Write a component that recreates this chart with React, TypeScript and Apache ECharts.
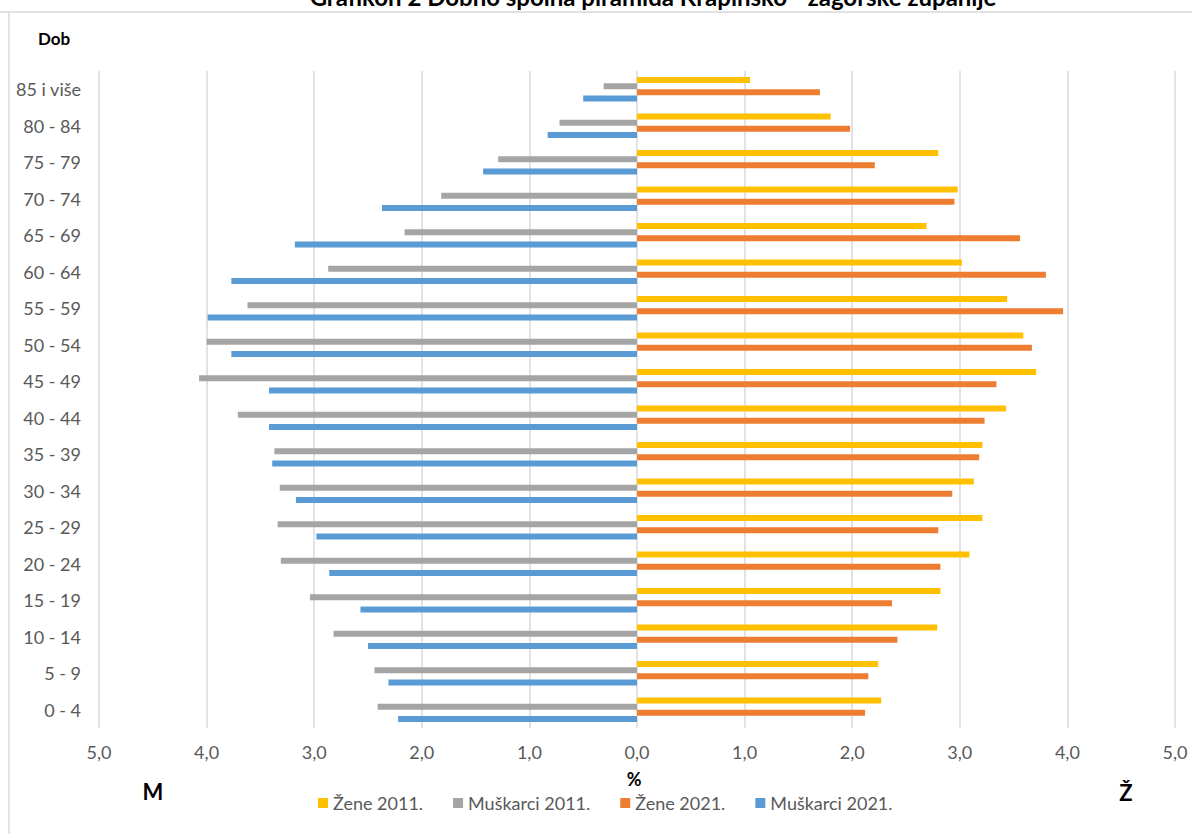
import React, { useEffect, useRef } from "react";
import * as echarts from "echarts";

const categories = [
  "0 - 4", "5 - 9", "10 - 14", "15 - 19", "20 - 24", "25 - 29", "30 - 34", "35 - 39", "40 - 44",
  "45 - 49", "50 - 54", "55 - 59", "60 - 64", "65 - 69", "70 - 74", "75 - 79", "80 - 84", "85 i više",
];
const zene2011 = [2.27, 2.24, 2.79, 2.82, 3.09, 3.21, 3.13, 3.21, 3.43, 3.71, 3.59, 3.44, 3.02, 2.69, 2.98, 2.80, 1.80, 1.05];
const muskarci2011 = [2.41, 2.44, 2.82, 3.04, 3.31, 3.34, 3.32, 3.37, 3.71, 4.07, 4.00, 3.62, 2.87, 2.16, 1.82, 1.29, 0.72, 0.31];
const zene2021 = [2.12, 2.15, 2.42, 2.37, 2.82, 2.80, 2.93, 3.18, 3.23, 3.34, 3.67, 3.96, 3.80, 3.56, 2.95, 2.21, 1.98, 1.70];
const muskarci2021 = [2.22, 2.31, 2.50, 2.57, 2.86, 2.98, 3.17, 3.39, 3.42, 3.42, 3.77, 3.99, 3.77, 3.18, 2.37, 1.43, 0.83, 0.50];
const seriesNames = ["Žene 2011.", "Muškarci 2011.", "Žene 2021.", "Muškarci 2021."];
const colors = ["#FFC000", "#A5A5A5", "#ED7D31", "#5B9BD5"];
const titleText = "Grafikon 2 Dobno spolna piramida Krapinsko - zagorske županije";

const FONT = "Lato, 'Noto Sans', sans-serif";

export default function App() {
  const ref = useRef<HTMLDivElement>(null);
  useEffect(() => {
    if (!ref.current) return;
    const chart = echarts.init(ref.current, null, { renderer: "svg" });
    const mk = (i: number, data: number[], neg: boolean) => ({
      name: seriesNames[i],
      type: "bar",
      data: neg ? data.map((v) => -v) : data,
      barWidth: 6,
      barGap: "4%",
      itemStyle: { color: colors[i] },
    });
    chart.setOption({
      animation: false,
      textStyle: { fontFamily: FONT },
      color: colors,
      grid: { left: 99, right: 17, top: 71, bottom: 106, containLabel: false },
      legend: {
        left: 313,
        top: 789,
        icon: "rect",
        itemWidth: 10,
        itemHeight: 10,
        itemGap: 30,
        textStyle: { fontSize: 18, color: "#595959", fontFamily: FONT },
        data: seriesNames,
      },
      xAxis: {
        type: "value",
        min: -5,
        max: 5,
        interval: 1,
        axisLine: { show: false },
        axisTick: { show: false },
        splitLine: { show: true, lineStyle: { color: "#D9D9D9", width: 1.5 } },
        axisLabel: {
          margin: 15,
          fontSize: 18,
          color: "#595959",
          fontFamily: FONT,
          formatter: (v: number) => Math.abs(v).toFixed(1).replace(".", ","),
        },
      },
      yAxis: {
        type: "category",
        data: categories,
        axisLine: { show: false },
        axisTick: { show: false },
        axisLabel: { margin: 18, fontSize: 18, color: "#595959", fontFamily: FONT },
      },
      series: [
        mk(0, zene2011, false),
        mk(1, muskarci2011, true),
        mk(2, zene2021, false),
        mk(3, muskarci2021, true),
      ],
      graphic: [
        {
          type: "line",
          shape: { x1: 0, y1: 12, x2: 1192, y2: 12 },
          style: { stroke: "#D9D9D9", lineWidth: 1.5 },
        },
        {
          type: "line",
          shape: { x1: 9, y1: 12, x2: 9, y2: 834 },
          style: { stroke: "#D9D9D9", lineWidth: 1.5 },
        },
        {
          type: "text",
          x: 653,
          y: -4,
          style: {
            text: titleText,
            font: `bold 24px ${FONT}`,
            fill: "#000",
            textAlign: "center",
            textVerticalAlign: "middle",
          },
        },
        {
          type: "text",
          x: 38,
          y: 38,
          style: { text: "Dob", font: `bold 17px ${FONT}`, fill: "#000", textVerticalAlign: "middle" },
        },
        {
          type: "text",
          x: 634,
          y: 779,
          style: { text: "%", font: `bold 18px ${FONT}`, fill: "#000", textAlign: "center", textVerticalAlign: "middle" },
        },
        {
          type: "text",
          x: 153,
          y: 791,
          style: { text: "M", font: `bold 22px ${FONT}`, fill: "#000", textAlign: "center", textVerticalAlign: "middle" },
        },
        {
          type: "text",
          x: 1126,
          y: 792,
          style: { text: "Ž", font: `bold 22px ${FONT}`, fill: "#000", textAlign: "center", textVerticalAlign: "middle" },
        },
      ],
    });
    return () => chart.dispose();
  }, []);
  return (
    <div
      ref={ref}
      style={{ position: "absolute", left: 0, top: 0, width: 1192, height: 834, background: "#fff" }}
    />
  );
}
